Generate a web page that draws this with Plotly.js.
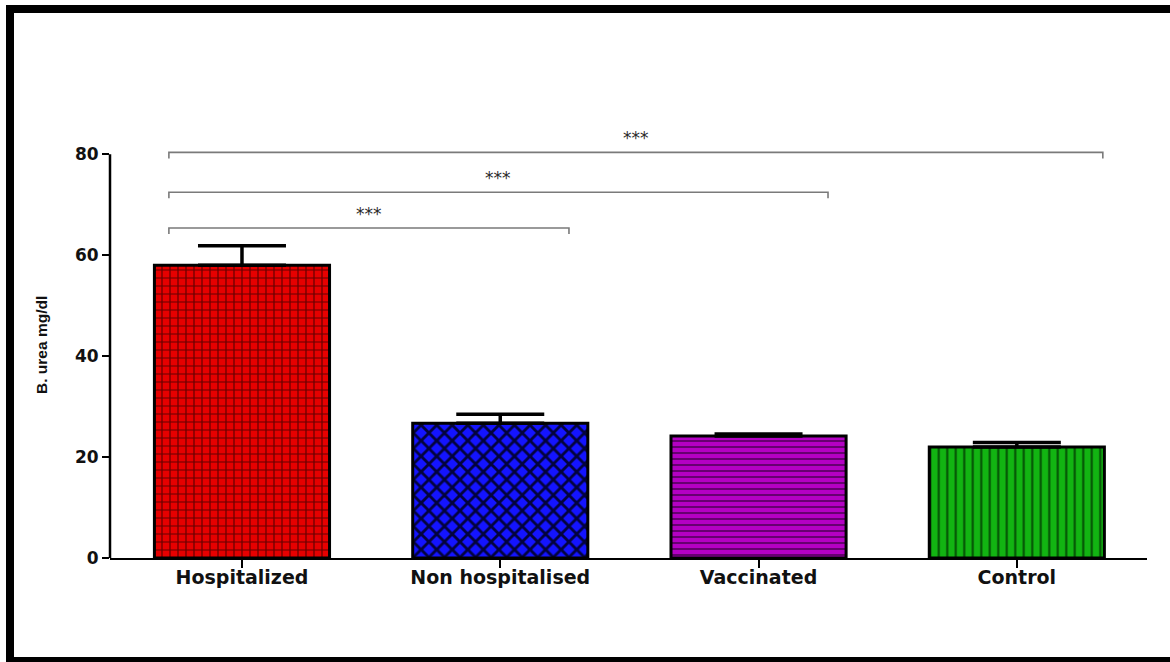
<!DOCTYPE html>
<html>
<head>
<meta charset="utf-8">
<script src="https://cdn.plot.ly/plotly-3.0.1.min.js"></script>
<style>
  html, body { margin: 0; padding: 0; background: #ffffff; }
  #wrap { position: relative; width: 1170px; height: 662px; overflow: hidden; }
  #chart { position: absolute; left: 0; top: 0; width: 1170px; height: 662px; }
  #frame {
    position: absolute; left: 6px; top: 5px; width: 1164px; height: 657px;
    box-sizing: border-box; border-left: 8px solid #000; border-top: 8px solid #000;
    border-bottom: 5px solid #000; pointer-events: none;
  }
</style>
</head>
<body>
<div id="wrap">
  <div id="chart"></div>
  <div id="frame"></div>
</div>
<script>
// Blood urea by group (mean with upper SEM bar)
const groups = ['Hospitalized', 'Non hospitalised', 'Vaccinated', 'Control'];
const meanUrea = [58.0, 26.7, 24.2, 22.0];
const semUrea = [3.9, 1.8, 0.4, 0.9];

// Pairwise comparisons against the hospitalized group
const compareFrom = [0, 0, 0];
const compareTo = [1, 2, 3];
const compareLabel = ['***', '***', '***'];
const bracketLevel = [65.4, 72.5, 80.4];

const yTicks = [0, 20, 40, 60, 80];

// Fill styles for the four bars
const fills = [
  { bg: '#e60000', fg: '#3a0000', shape: '+', size: 8, solidity: 0.28, op: 0.75 },
  { bg: '#1414ff', fg: '#00001a', shape: 'x', size: 11, solidity: 0.45, op: 0.85 },
  { bg: '#b400c4', fg: '#3a0040', shape: '-', size: 6, solidity: 0.3, op: 0.7 },
  { bg: '#12b412', fg: '#003000', shape: '|', size: 8.5, solidity: 0.25, op: 0.75 }
];

const traces = groups.map((g, i) => ({
  type: 'bar',
  x: [i],
  y: [meanUrea[i]],
  width: 0.678,
  marker: {
    color: fills[i].bg,
    line: { color: '#000000', width: 3 },
    pattern: {
      shape: fills[i].shape,
      bgcolor: fills[i].bg,
      fgcolor: fills[i].fg,
      fgopacity: fills[i].op,
      size: fills[i].size,
      solidity: fills[i].solidity,
      fillmode: 'replace'
    }
  },
  error_y: {
    type: 'data',
    symmetric: false,
    array: [semUrea[i]],
    arrayminus: [0],
    color: '#000000',
    thickness: 3.5,
    width: 44
  },
  hoverinfo: 'x+y',
  showlegend: false
}));

// Bracket ends sit a little inside/outside the compared bars
const leftEnd = -0.283;
const rightPad = [0.266, 0.269, 0.333];
const drop = 1.2;
const shapes = [];
const annotations = [];
const bracketLine = { color: '#7a7a7a', width: 1.6 };

compareTo.forEach((j, k) => {
  const x0 = compareFrom[k] + leftEnd;
  const x1 = j + rightPad[k];
  const yl = bracketLevel[k];
  shapes.push({
    type: 'path', xref: 'x', yref: 'y',
    path: `M ${x0} ${yl - drop} L ${x0} ${yl} L ${x1} ${yl} L ${x1} ${yl - drop}`,
    line: bracketLine
  });
  annotations.push({
    xref: 'x', yref: 'y', x: (x0 + x1) / 2, y: yl,
    yanchor: 'bottom', yshift: 2,
    text: compareLabel[k], showarrow: false,
    font: { family: 'DejaVu Sans', size: 17, color: '#2a2a2a' }
  });
});

// Vertical axis line only up to the last tick
shapes.push({
  type: 'line', xref: 'paper', yref: 'y',
  x0: 0, x1: 0, y0: 0, y1: yTicks[yTicks.length - 1],
  line: { color: '#000000', width: 2.5 }
});

annotations.push({
  xref: 'paper', yref: 'paper', x: -0.0655, y: 0.48,
  xanchor: 'center', yanchor: 'middle', textangle: -90,
  text: 'B. urea mg/dl', showarrow: false,
  font: { family: 'Liberation Sans, Arial, sans-serif', size: 15.5, color: '#111111', weight: 'bold' }
});

const layout = {
  width: 1170,
  height: 662,
  margin: { l: 110, r: 23, t: 114, b: 104 },
  paper_bgcolor: '#ffffff',
  plot_bgcolor: '#ffffff',
  bargap: 0,
  xaxis: {
    type: 'linear',
    range: [-0.511, 3.504],
    tickvals: [0, 1, 2, 3],
    ticktext: groups,
    showgrid: false,
    zeroline: false,
    showline: true,
    linecolor: '#000000',
    linewidth: 2,
    ticks: 'outside',
    ticklen: 8,
    tickwidth: 2,
    tickcolor: '#000000',
    ticklabelstandoff: -7,
    tickfont: { family: 'DejaVu Sans', size: 19, color: '#111111', weight: 'bold' },
    fixedrange: true
  },
  yaxis: {
    range: [0, 88],
    tickvals: yTicks,
    showgrid: false,
    zeroline: false,
    showline: false,
    ticks: 'outside',
    ticklen: 7,
    tickwidth: 2,
    tickcolor: '#000000',
    tickfont: { family: 'DejaVu Sans', size: 17, color: '#111111', weight: 'bold' },
    fixedrange: true
  },
  shapes: shapes,
  annotations: annotations
};

Plotly.newPlot('chart', traces, layout, { displayModeBar: false, staticPlot: true });
</script>
</body>
</html>
